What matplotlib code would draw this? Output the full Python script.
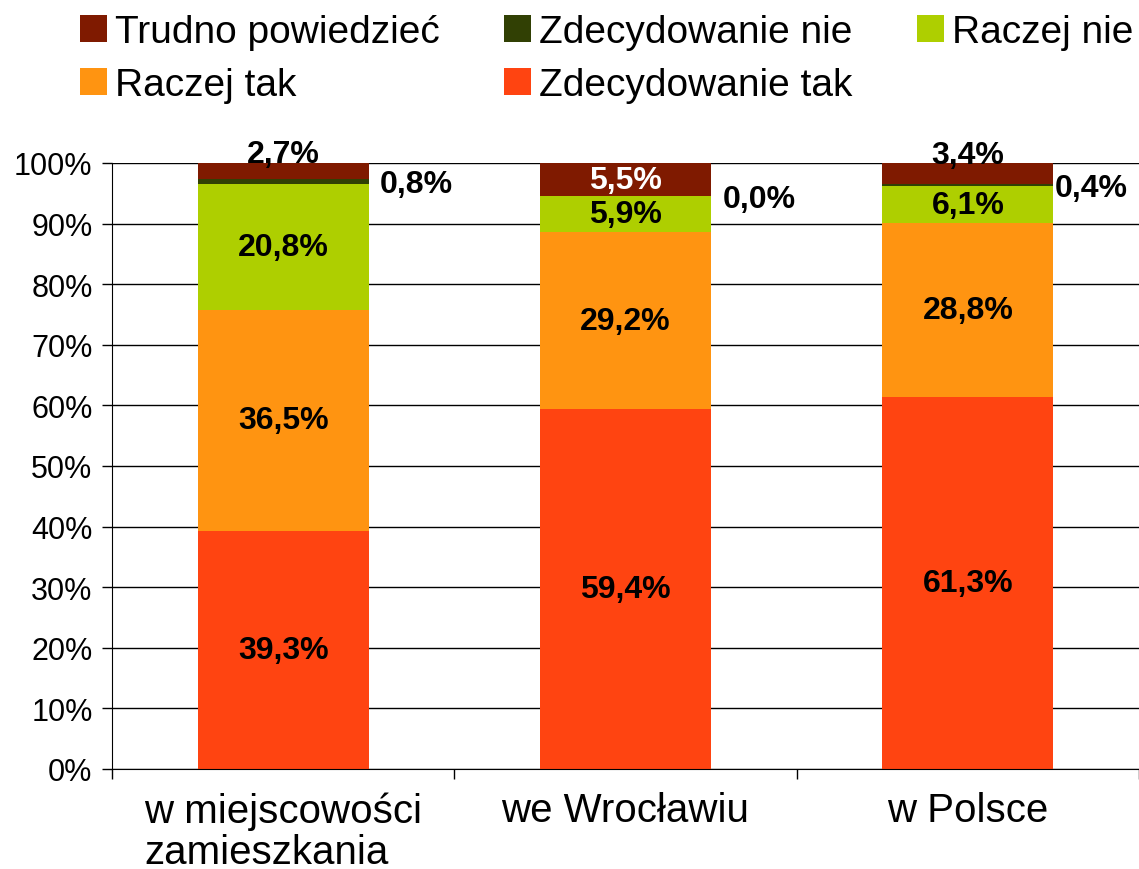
import matplotlib
matplotlib.use("Agg")
import matplotlib.pyplot as plt
import numpy as np

plt.rcParams['font.family'] = ['Liberation Sans', 'DejaVu Sans']

categories = ['w miejscowości\nzamieszkania', 'we Wrocławiu', 'w Polsce']
series = ['Zdecydowanie tak', 'Raczej tak', 'Raczej nie', 'Zdecydowanie nie', 'Trudno powiedzieć']
zdecydowanie_tak = [39.3, 59.4, 61.3]
raczej_tak = [36.5, 29.2, 28.8]
raczej_nie = [20.8, 5.9, 6.1]
zdecydowanie_nie = [0.8, 0.0, 0.4]
trudno = [2.7, 5.5, 3.4]
colors = ['#FF4411', '#FF9411', '#AECF00', '#314004', '#7F1A00']

values = [zdecydowanie_tak, raczej_tak, raczej_nie, zdecydowanie_nie, trudno]
side_dx = [0.39, 0.39, 0.36]  # where the tiny "Zdecydowanie nie" labels sit

fig = plt.figure(figsize=(11.39, 8.70), dpi=100)
ax = fig.add_axes([0.0983, 0.115, 0.9017, 0.6965])

x = np.arange(len(categories))
bottom = np.zeros(len(categories))
bars = {}
for name, vals, col in zip(series, values, colors):
    vals = np.array(vals)
    bars[name] = ax.bar(x, vals, 0.5, bottom=bottom, color=col, zorder=2, label=name)
    for i in range(len(x)):
        v = vals[i]
        lab = ('%.1f%%' % v).replace('.', ',')
        if name == 'Zdecydowanie nie':
            ax.text(x[i] + side_dx[i], bottom[i] + v / 2 - 0.5, lab, ha='center', va='center',
                    fontsize=23, fontweight='bold', color='black', zorder=5)
        elif name == 'Trudno powiedzieć' and v < 5:
            ax.text(x[i], bottom[i] + v + 1.4, lab, ha='center', va='center',
                    fontsize=23, fontweight='bold', color='black', zorder=5, clip_on=False)
        else:
            c = 'white' if name == 'Trudno powiedzieć' else 'black'
            ax.text(x[i], bottom[i] + v / 2, lab, ha='center', va='center',
                    fontsize=23, fontweight='bold', color=c, zorder=5)
    bottom += vals

ax.set_xlim(-0.5, 2.5)
ax.set_ylim(0, 100)
ax.set_yticks(np.arange(0, 101, 10))
ax.set_yticklabels(['%d%%' % t for t in range(0, 101, 10)], fontsize=22)
ax.yaxis.grid(True, color='black', linewidth=1, zorder=0)
ax.tick_params(axis='y', length=7, width=1, pad=7)

ax.set_xticks(x)
ax.set_xticklabels(categories, fontsize=29, multialignment='left', linespacing=1.1)
ax.set_xticks([-0.5, 0.5, 1.5, 2.5], minor=True)
ax.tick_params(axis='x', which='major', length=0, pad=16)
ax.tick_params(axis='x', which='minor', length=7, width=1)

for s in ['top', 'right']:
    ax.spines[s].set_visible(False)
ax.spines['left'].set_zorder(3)
ax.spines['bottom'].set_zorder(3)

order = ['Trudno powiedzieć', 'Raczej tak', 'Zdecydowanie nie', 'Zdecydowanie tak', 'Raczej nie']
fig.legend([bars[n] for n in order], order, loc='upper left', bbox_to_anchor=(0.070, 0.983),
           ncol=3, frameon=False, fontsize=28, handlelength=0.7, handleheight=0.7,
           handletextpad=0.2, columnspacing=1.66, labelspacing=0.45, borderaxespad=0,
           borderpad=0)

fig.savefig('out.png', dpi=100)
